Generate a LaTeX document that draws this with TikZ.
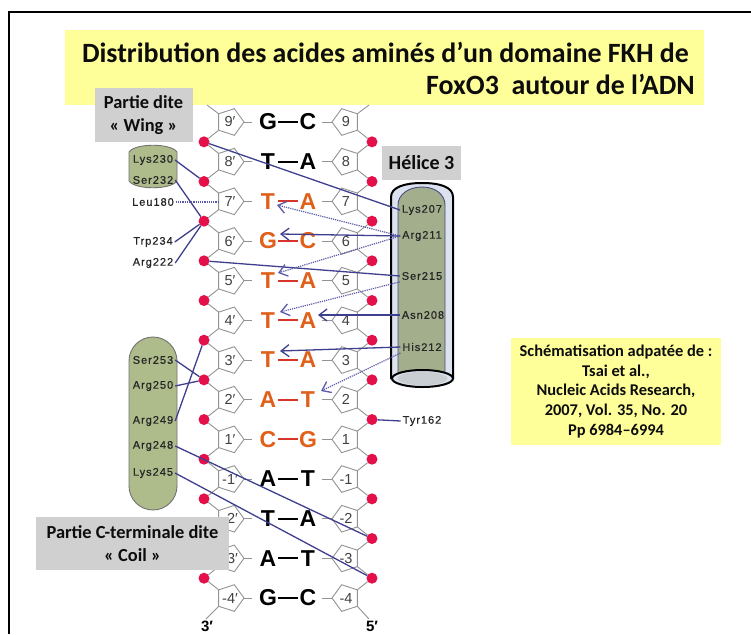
\documentclass[tikz,border=0pt]{standalone}
\usepackage{fontspec}
\setmainfont{Liberation Sans}
\newfontfamily\titlefont{Carlito}
\newfontfamily\aminofont[LetterSpace=9,FakeBold=0.6]{Liberation Sans}
\usetikzlibrary{shapes.geometric,arrows.meta}
\definecolor{yellowbox}{HTML}{FFFF99}
\definecolor{greybox}{HTML}{D0D0D0}
\definecolor{helixgreen}{HTML}{A3AE8C}
\definecolor{wormgreen}{HTML}{AEBB8B}
\definecolor{tubeblue}{HTML}{DCE3EE}
\definecolor{dotred}{HTML}{E4104A}
\definecolor{baseorange}{HTML}{E0601A}
\definecolor{barred}{HTML}{D8352A}
\definecolor{linkblue}{HTML}{3F3F8F}
\definecolor{dotblue}{HTML}{5A5AA8}
\definecolor{tubebase}{HTML}{C9CED3}
\tikzset{
  pentL/.style={regular polygon,regular polygon sides=5,shape border rotate=-90,minimum size=28pt,inner sep=0pt,outer sep=0pt,draw=gray!85,fill=white,line width=0.9pt},
  pentR/.style={regular polygon,regular polygon sides=5,shape border rotate=90,minimum size=28pt,inner sep=0pt,outer sep=0pt,draw=gray!85,fill=white,line width=0.9pt},
  numtxt/.style={font=\fontsize{14.5}{14.5}\selectfont,text=black!75,inner sep=0pt},
  basetxt/.style={font=\fontsize{23}{23}\selectfont\bfseries,minimum width=20pt,inner sep=0pt,outer sep=0pt},
  backbone/.style={draw=gray!85,line width=0.9pt},
  phos/.style={circle,fill=dotred,minimum size=11pt,inner sep=0pt,outer sep=0pt},
  amino/.style={font=\fontsize{11}{11}\aminofont,text=black!85,inner sep=2pt,outer sep=0pt},
  link/.style={draw=linkblue,line width=1.3pt},
  dotlink/.style={draw=dotblue,line width=1.2pt,densely dotted},
  tiplink/.style={-{Straight Barb[length=8pt,width=12pt,line width=1.3pt]}},
  boxtxt/.style={font=\titlefont\bfseries,text=black!95,align=center},
  wormbody/.style={fill=wormgreen,draw=black!55,line width=0.9pt},
}
\begin{document}
\begin{tikzpicture}[x=1pt,y=-1pt]
\useasboundingbox (0,0) rectangle (751,634);
\fill[white] (0,0) rectangle (751,634);
\draw[line width=2pt,black] (751,12) -- (9,12) -- (9,634);
% title
\fill[yellowbox] (65,30) rectangle (704,105);
\node[boxtxt,font=\titlefont\bfseries\fontsize{27.9}{30}\selectfont,anchor=east,inner sep=0pt] (title1) at (689,52) {Distribution des acides aminés d’un domaine FKH de};
\node[boxtxt,font=\titlefont\bfseries\fontsize{27.9}{30}\selectfont,anchor=east,inner sep=0pt] (title2) at (695,84) {FoxO3\ \ autour de l’ADN};
% DNA ladder
\foreach \i/\n/\a/\b/\c/\r in {
  1/9/G/C/black/black,2/8/T/A/black/black,3/7/T/A/baseorange/barred,4/6/G/C/baseorange/barred,
  5/5/T/A/baseorange/barred,6/4/T/A/baseorange/barred,7/3/T/A/baseorange/barred,8/2/A/T/baseorange/barred,
  9/1/C/G/baseorange/barred,10/-1/A/T/black/black,11/-2/T/A/black/black,12/-3/A/T/black/black,13/-4/G/C/black/black}{
  \pgfmathsetmacro{\yy}{122+39.67*(\i-1)}
  \node[pentL,label={[numtxt]center:\n′}] (PL\i) at (230,\yy) {};
  \node[pentR,label={[numtxt]center:\n}] (PR\i) at (346,\yy) {};
  \node[basetxt,text=\c] (BL\i) at (268,\yy) {\a};
  \node[basetxt,text=\c] (BR\i) at (308,\yy) {\b};
  \draw[draw=\r,line width=1.8pt] (BL\i.east) -- (BR\i.west);
  \draw[backbone,shorten >=6pt] (PL\i.corner 1) -- (BL\i.west);
  \draw[backbone,shorten <=4pt] (BR\i.east) -- (PR\i.corner 1);
}
\foreach \i in {1,...,12}{
  \pgfmathsetmacro{\yy}{122+39.67*(\i-0.5)}
  \node[phos] (DL\i) at (204,\yy) {};
  \node[phos] (DR\i) at (372,\yy) {};
}
\coordinate (topL) at (207,105);
\coordinate (topR) at (369,105);
\coordinate (botL) at (206,619);
\coordinate (botR) at (369,619);
\draw[backbone] (topL) -- (PL1.corner 3);
\draw[backbone] (topR) -- (PR1.corner 4);
\draw[backbone] (PL13.corner 4) -- (botL);
\draw[backbone] (PR13.corner 3) -- (botR);
\foreach \i [evaluate=\i as \j using int(\i+1)] in {1,...,12}{
  \draw[backbone] (PL\i.corner 4) -- (DL\i);
  \draw[backbone] (DL\i) -- (PL\j.corner 3);
  \draw[backbone] (PR\i.corner 3) -- (DR\i);
  \draw[backbone] (DR\i) -- (PR\j.corner 4);
}
\node[font=\bfseries\fontsize{15}{15}\selectfont,inner sep=0pt] (end3) at (207,626) {3′};
\node[font=\bfseries\fontsize{15}{15}\selectfont,inner sep=0pt] (end5) at (372,626) {5′};
% helix cylinder
\draw[fill=tubeblue,draw=black,line width=2pt] (391,378) -- (391,197) .. controls (391,187) and (405,183) .. (422,183) .. controls (440,183) and (453,187) .. (453,197) -- (453,378) -- cycle;
\draw[fill=helixgreen,draw=black!50!blue!40!gray,line width=0.9pt] (398,374) -- (398,205) .. controls (398,195) and (408,187) .. (422,187) .. controls (436,187) and (445,195) .. (445,205) -- (445,374) -- cycle;
\draw[fill=tubeblue,draw=black,line width=2pt] (422.5,378.5) ellipse [x radius=30.5,y radius=8.5];
\fill[tubebase] (422.5,378.5) ellipse [x radius=25,y radius=6.8];
% wing cylinder and coil capsule
\draw[wormbody] (129,152) .. controls (135,143) and (171,143) .. (177,152) -- (177,181) .. controls (171,190) and (135,190) .. (129,181) -- cycle;
\node[rectangle,rounded corners=24pt,minimum width=48pt,minimum height=173pt,wormbody,inner sep=0pt] (coil) at (153,423.5) {};
% amino acids
\node[amino] (lys230) at (153,160) {Lys230};
\node[amino] (ser232) at (153,180) {Ser232};
\node[amino] (leu180) at (153,202) {Leu180};
\node[amino] (trp234) at (153,242) {Trp234};
\node[amino] (arg222) at (153,263) {Arg222};
\node[amino] (ser253) at (153,360) {Ser253};
\node[amino] (arg250) at (153,386) {Arg250};
\node[amino] (arg249) at (153,421) {Arg249};
\node[amino] (arg248) at (153,446) {Arg248};
\node[amino] (lys245) at (153,473) {Lys245};
\node[amino] (lys207) at (422,210) {Lys207};
\node[amino] (arg211) at (422,236) {Arg211};
\node[amino] (ser215) at (422,276) {Ser215};
\node[amino] (asn208) at (423,315) {Asn208};
\node[amino] (his212) at (422,347) {His212};
\node[amino] (tyr162) at (422,421) {Tyr162};
% contacts
\draw[link] (DL1) -- (lys207.west);
\draw[link] (lys230.east) -- (DL2);
\draw[link] (ser232.east) -- (DL3);
\draw[dotlink] (leu180.east) -- (PL3.corner 3 |- leu180.east);
\draw[link] (trp234.east) -- (DL3);
\draw[link] (arg222.east) -- (DL3);
\draw[link] (DL4) -- (ser215.west);
\draw[link] (ser253.east) -- (DL7);
\draw[link] (arg250.east) -- (DL7);
\draw[link] (arg249.east) -- (DL6);
\draw[link] (arg248.east) -- (DR11);
\draw[link] (lys245.east) -- (DR12);
\draw[link] (DR8) -- (tyr162.west);
\coordinate (tipA) at (277,205);
\coordinate (tipB) at (280,234);
\coordinate (tipC) at (278,273);
\coordinate (tipD) at (280,312);
\coordinate (tipE) at (318,315);
\coordinate (tipF) at (280,351);
\coordinate (tipG) at (321,391);
\draw[dotlink,tiplink] (arg211.west) -- (tipA);
\draw[link,tiplink] (arg211.west) -- (tipB);
\draw[dotlink,tiplink] (arg211.west) -- (tipC);
\draw[dotlink,tiplink] (ser215.south west) -- (tipD);
\draw[link,tiplink] (asn208.west) -- (tipE);
\draw[link,tiplink] (his212.west) -- (tipF);
\draw[dotlink,tiplink] (his212.south west) -- (tipG);
% grey labels
\node[fill=greybox,minimum width=98pt,minimum height=54pt,inner sep=0pt] (wingbox) at (143.5,115) {};
\node[boxtxt,font=\titlefont\bfseries\fontsize{18.4}{23}\selectfont] at (wingbox) {Partie dite\\« Wing »};
\node[fill=greybox,minimum width=79pt,minimum height=34pt,inner sep=0pt,boxtxt,font=\titlefont\bfseries\fontsize{20}{20}\selectfont] (helixbox) at (421.5,163) {Hélice 3};
\node[fill=greybox,minimum width=193pt,minimum height=53pt,inner sep=0pt] (coilbox) at (132.5,543.5) {};
\node[boxtxt,font=\titlefont\bfseries\fontsize{18.4}{23}\selectfont] at (coilbox) {Partie C-terminale dite\\« Coil »};
% reference box
\node[fill=yellowbox,minimum width=210pt,minimum height=107pt,inner sep=0pt,boxtxt,font=\titlefont\bfseries\fontsize{16.4}{19.8}\selectfont] (refbox) at (616,391.5) {Schématisation adpatée de :\\Tsai et al.,\\Nucleic Acids Research,\\2007, Vol. 35, No. 20\\Pp 6984–6994};
\end{tikzpicture}
\end{document}
